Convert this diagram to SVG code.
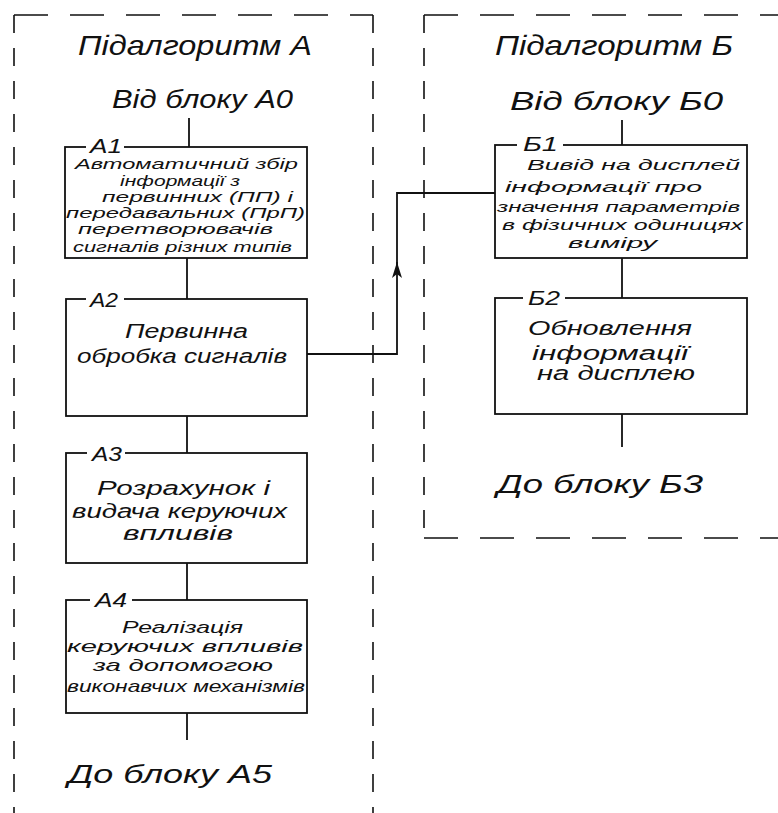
<svg xmlns="http://www.w3.org/2000/svg" width="778" height="813" viewBox="0 0 778 813">
<style>
text{font-family:"Liberation Sans","DejaVu Sans",sans-serif;font-style:italic;fill:#111;}
.t{font-size:28px;}
.s{font-size:25px;}
.b{font-size:20px;}
.c{font-size:17px;}
.m{font-size:15px;}
.l{font-size:20px;}
.box{fill:#fff;stroke:#111;stroke-width:1.8;}
.gap{fill:#fff;stroke:none;}
.ln{fill:none;stroke:#111;stroke-width:1.8;}
.dh{fill:none;stroke:#111;stroke-width:1.6;stroke-dasharray:34 22;}
.dv{fill:none;stroke:#111;stroke-width:1.6;stroke-dasharray:18 15;}
</style>
<defs>
<marker id="ah" viewBox="0 0 16 10" refX="16" refY="5" markerWidth="16" markerHeight="10" markerUnits="userSpaceOnUse" orient="auto">
<path d="M0,0 L16,5 L0,10 L4,5 Z" fill="#111"/>
</marker>
</defs>
<rect width="778" height="813" fill="#fff"/>

<g id="frame-a">
<path class="dh" d="M14,15 H373"/>
<path class="dv" d="M14,15 V813"/>
<path class="dv" d="M373,15 V813"/>
<text class="t" x="78" y="55" textLength="234" lengthAdjust="spacingAndGlyphs">Підалгоритм А</text>
<text class="s" x="112" y="108" textLength="181" lengthAdjust="spacingAndGlyphs">Від блоку А0</text>
<text class="s" x="68" y="783" textLength="204" lengthAdjust="spacingAndGlyphs">До блоку  А5</text>
</g>

<g id="frame-b">
<path class="dh" d="M424,15 H778"/>
<path class="dv" d="M424,15 V538"/>
<path class="dh" d="M424,538 H778"/>
<text class="t" x="495" y="55" textLength="238" lengthAdjust="spacingAndGlyphs">Підалгоритм Б</text>
<text class="s" x="510" y="110" textLength="213" lengthAdjust="spacingAndGlyphs">Від блоку Б0</text>
<text class="s" x="497" y="493" textLength="206" lengthAdjust="spacingAndGlyphs">До блоку  Б3</text>
</g>

<g id="connectors">
<path class="ln" d="M189,118 V147"/>
<path class="ln" d="M187,258 V299"/>
<path class="ln" d="M187,416 V453"/>
<path class="ln" d="M187,563 V600"/>
<path class="ln" d="M187,713 V740"/>
<path class="ln" d="M622,120 V145"/>
<path class="ln" d="M622,258 V298"/>
<path class="ln" d="M622,414 V447"/>
<path class="ln" d="M307,354 H397 V262" marker-end="url(#ah)"/>
<path class="ln" d="M397,266 V193 H495"/>
</g>

<g id="A1">
<rect class="box" x="65" y="147" width="242" height="111"/>
<rect class="gap" x="86" y="140" width="38" height="12"/>
<text class="l" x="90" y="153" textLength="32" lengthAdjust="spacingAndGlyphs">А1</text>
<text class="m" x="75" y="169" textLength="223" lengthAdjust="spacingAndGlyphs">Автоматичний збір</text>
<text class="m" x="120" y="186" textLength="120" lengthAdjust="spacingAndGlyphs">інформації  з</text>
<text class="m" x="102" y="202" textLength="191" lengthAdjust="spacingAndGlyphs">первинних (ПП) і</text>
<text class="m" x="66" y="218" textLength="239" lengthAdjust="spacingAndGlyphs">передавальних  (ПрП)</text>
<text class="m" x="78" y="234" textLength="195" lengthAdjust="spacingAndGlyphs">перетворювачів</text>
<text class="m" x="73" y="252" textLength="219" lengthAdjust="spacingAndGlyphs">сигналів різних типів</text>
</g>

<g id="A2">
<rect class="box" x="66" y="299" width="241" height="117"/>
<rect class="gap" x="86" y="292" width="38" height="12"/>
<text class="l" x="90" y="307" textLength="28" lengthAdjust="spacingAndGlyphs">А2</text>
<text class="b" x="125" y="338" textLength="123" lengthAdjust="spacingAndGlyphs">Первинна</text>
<text class="b" x="77" y="363" textLength="210" lengthAdjust="spacingAndGlyphs">обробка сигналів</text>
</g>

<g id="A3">
<rect class="box" x="66" y="453" width="241" height="110"/>
<rect class="gap" x="87" y="446" width="38" height="12"/>
<text class="l" x="92" y="461" textLength="30" lengthAdjust="spacingAndGlyphs">А3</text>
<text class="b" x="97" y="495" textLength="173" lengthAdjust="spacingAndGlyphs">Розрахунок  і</text>
<text class="b" x="72" y="518" textLength="215" lengthAdjust="spacingAndGlyphs">видача керуючих</text>
<text class="b" x="123" y="540" textLength="110" lengthAdjust="spacingAndGlyphs">впливів</text>
</g>

<g id="A4">
<rect class="box" x="66" y="600" width="241" height="113"/>
<rect class="gap" x="90" y="593" width="42" height="12"/>
<text class="l" x="95" y="607" textLength="32" lengthAdjust="spacingAndGlyphs">А4</text>
<text class="c" x="122" y="633" textLength="121" lengthAdjust="spacingAndGlyphs">Реалізація</text>
<text class="c" x="67" y="652" textLength="236" lengthAdjust="spacingAndGlyphs">керуючих впливів</text>
<text class="c" x="93" y="671" textLength="180" lengthAdjust="spacingAndGlyphs">за  допомогою</text>
<text class="c" x="67" y="692" textLength="238" lengthAdjust="spacingAndGlyphs">виконавчих механізмів</text>
</g>

<g id="B1">
<rect class="box" x="495" y="145" width="252" height="113"/>
<rect class="gap" x="517" y="138" width="46" height="12"/>
<text class="l" x="523" y="151" textLength="35" lengthAdjust="spacingAndGlyphs">Б1</text>
<text class="m" x="527" y="170" textLength="213" lengthAdjust="spacingAndGlyphs">Вивід на дисплей</text>
<text class="m" x="505" y="192" textLength="197" lengthAdjust="spacingAndGlyphs">інформації  про</text>
<text class="m" x="497" y="212" textLength="243" lengthAdjust="spacingAndGlyphs">значення параметрів</text>
<text class="m" x="502" y="230" textLength="241" lengthAdjust="spacingAndGlyphs">в фізичних одиницях</text>
<text class="m" x="568" y="248" textLength="89" lengthAdjust="spacingAndGlyphs">виміру</text>
</g>

<g id="B2">
<rect class="box" x="495" y="298" width="252" height="116"/>
<rect class="gap" x="523" y="291" width="42" height="12"/>
<text class="l" x="528" y="305" textLength="32" lengthAdjust="spacingAndGlyphs">Б2</text>
<text class="b" x="528" y="335" textLength="164" lengthAdjust="spacingAndGlyphs">Обновлення</text>
<text class="b" x="532" y="360" textLength="156" lengthAdjust="spacingAndGlyphs">інформації</text>
<text class="b" x="537" y="380" textLength="158" lengthAdjust="spacingAndGlyphs">на дисплею</text>
</g>
</svg>
